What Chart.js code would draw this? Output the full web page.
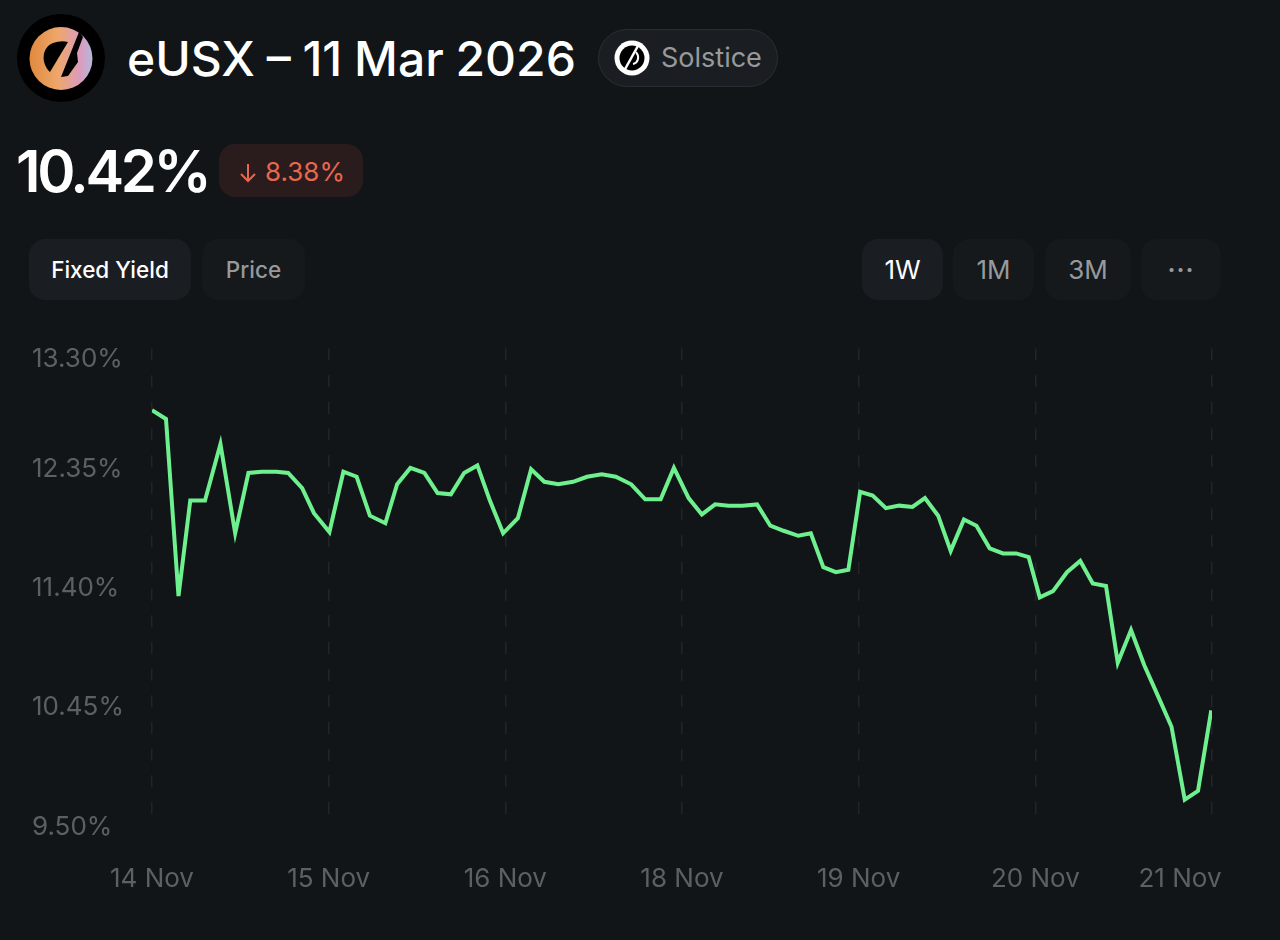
<!DOCTYPE html>
<html>
<head>
<meta charset="utf-8">
<title>eUSX</title>
<script src="https://cdn.jsdelivr.net/npm/chart.js@4"></script>
<style>
  html, body { margin: 0; padding: 0; background: #111518; }
  body { width: 1280px; height: 940px; position: relative; overflow: hidden; font-family: Inter, sans-serif; }
  .abs { position: absolute; }
  .btn { position: absolute; top: 239px; height: 61px; border-radius: 16px; display: flex; align-items: center; justify-content: center;
         font-size: 26px; color: #98999b; background: #15191c; }
  .btn.on { background: #1a1e22; color: #fff; }
  .btn.txt { font-size: 22.5px; font-weight: 500; }
  #title { left: 127px; top: 30px; font-size: 48px; line-height: 58px; font-weight: 550; word-spacing: -1px; color: #fff; white-space: nowrap; }
  #pill { left: 598px; top: 29px; width: 178px; height: 56px; border: 1px solid #2a2e32; border-radius: 29px; background: #1a1e22; }
  #pillText { left: 661px; top: 41px; font-size: 27px; line-height: 34px; color: #98999b; }
  #value { left: 16px; top: 136px; font-size: 58px; line-height: 70px; font-weight: 600; letter-spacing: -3.4px; color: #fff; }
  #badge { left: 219px; top: 144px; width: 144px; height: 53px; border-radius: 16px; background: #2a1c1c; }
  #badgeText { left: 265px; top: 157px; font-size: 26px; line-height: 30px; color: #e8674f; }
  #chart { position: absolute; left: 0; top: 330px; }
</style>
</head>
<body>

<svg class="abs" style="left:17px;top:14px" width="88" height="88" viewBox="0 0 88 88">
  <defs>
    <linearGradient id="logoGrad" x1="0" y1="0" x2="1" y2="0">
      <stop offset="0" stop-color="#e0893e"/>
      <stop offset="0.45" stop-color="#eea76a"/>
      <stop offset="0.8" stop-color="#dc9bbd"/>
      <stop offset="1" stop-color="#b3b9dc"/>
    </linearGradient>
  </defs>
  <circle cx="44" cy="44" r="44" fill="#000"/>
  <circle cx="44" cy="44.5" r="31.5" fill="url(#logoGrad)"/>
  <path d="M51 28 L33 58 C24 50 24 34 36 29 Q44 26 51 28 Z" fill="#000"/>
  <path d="M62 18 L66 23 L60 39 L61 48 L51 62 L44 63 Z" fill="#000"/>
</svg>
<div class="abs" id="title">eUSX – 11 Mar 2026</div>

<div class="abs" id="pill"></div>
<svg class="abs" style="left:614px;top:40px" width="36" height="36" viewBox="0 0 36 36">
  <circle cx="18" cy="18" r="17.5" fill="#fff"/>
  <circle cx="18" cy="18" r="12.5" fill="#000"/>
  <path d="M25 4 L10 31" stroke="#fff" stroke-width="2.5"/>
  <path d="M22 12 C26 17 24 23 19 24" stroke="#fff" stroke-width="2" fill="none"/>
</svg>
<div class="abs" id="pillText">Solstice</div>

<div class="abs" id="value">10.42%</div>
<div class="abs" id="badge"></div>
<svg class="abs" style="left:238px;top:162px" width="20" height="22" viewBox="0 0 20 22">
  <path d="M10 2 V19 M3 12 L10 19 L17 12" stroke="#e8674f" stroke-width="2" fill="none"/>
</svg>
<div class="abs" id="badgeText">8.38%</div>

<div class="btn on txt" style="left:29px;width:162px">Fixed Yield</div>
<div class="btn txt" style="left:202px;width:103px">Price</div>
<div class="btn on" style="left:862px;width:81px">1W</div>
<div class="btn" style="left:953px;width:81px">1M</div>
<div class="btn" style="left:1045px;width:86px">3M</div>
<div class="btn" style="left:1141px;width:80px;font-weight:700;font-size:24px;letter-spacing:1px">···</div>

<canvas id="chart" width="1280" height="610"></canvas>

<script>
// Etiquetas de los ejes
const dayLabels = ["14 Nov", "15 Nov", "16 Nov", "18 Nov", "19 Nov", "20 Nov", "21 Nov"];
const yTicks = [9.5, 10.45, 11.4, 12.35, 13.3];

// Horas desde el primer tick (una marca cada 24) y yield en %
const hours = [
  0, 1.9, 3.6, 5.2, 7.2, 9.3, 11.3, 13.1, 14.9, 16.9,
  18.5, 20.4, 22, 24.1, 26, 27.8, 29.6, 31.7, 33.3, 35.1,
  37, 38.8, 40.6, 42.4, 44.2, 45.9, 47.7, 49.7, 51.5, 53.3,
  55.2, 57.2, 59.1, 61.1, 63, 65.1, 67, 69.1, 70.9, 72.9,
  74.7, 76.5, 78.3, 80.2, 82.2, 84, 85.8, 87.8, 89.5, 91.2,
  92.9, 94.6, 96.2, 97.9, 99.7, 101.5, 103.3, 105, 106.8, 108.5,
  110.3, 112, 113.8, 115.6, 117.4, 119.1, 120.6, 122.4, 124.3, 126.1,
  127.8, 129.6, 131.2, 133, 134.8, 136.7, 138.5, 140.3, 142.1, 143.9
];
const yields = [
  12.81, 12.74, 11.33, 12.09, 12.09, 12.54, 11.83, 12.31, 12.32, 12.32,
  12.31, 12.19, 11.99, 11.84, 12.32, 12.28, 11.97, 11.91, 12.22, 12.35,
  12.31, 12.15, 12.14, 12.31, 12.37, 12.09, 11.83, 11.95, 12.34, 12.24,
  12.22, 12.24, 12.28, 12.30, 12.28, 12.22, 12.10, 12.10, 12.35, 12.11,
  11.98, 12.06, 12.05, 12.05, 12.06, 11.89, 11.85, 11.81, 11.83, 11.56,
  11.52, 11.54, 12.16, 12.13, 12.03, 12.05, 12.04, 12.11, 11.97, 11.69,
  11.94, 11.89, 11.71, 11.67, 11.67, 11.64, 11.32, 11.37, 11.52, 11.61,
  11.43, 11.41, 10.80, 11.06, 10.78, 10.53, 10.29, 9.71, 9.78, 10.42
];

// Las etiquetas de los extremos quedan desplazadas para no salirse
const edgeLabels = {
  id: "edgeLabels",
  beforeDraw(chart) {
    const xItems = chart.scales.x.getLabelItems();
    const lastX = xItems[xItems.length - 1];
    lastX.options.translation[0] = chart.scales.x.getPixelForValue(144) - 32;
    const yItems = chart.scales.y.getLabelItems();
    const topY = yItems[yItems.length - 1];
    topY.options.translation[1] = chart.scales.y.getPixelForValue(13.3) + 11;
  }
};

const tickFont = { family: "Inter, sans-serif", size: 26 };

new Chart(document.getElementById("chart").getContext("2d"), {
  type: "line",
  data: {
    datasets: [{
      data: hours.map((h, i) => ({ x: h, y: yields[i] })),
      borderColor: "#6ef08f",
      borderWidth: 4,
      pointRadius: 0,
      tension: 0,
      fill: false,
    }],
  },
  options: {
    responsive: false,
    animation: false,
    layout: { autoPadding: false, padding: { left: 32, right: 68, top: 17, bottom: 0 } },
    plugins: { legend: { display: false }, tooltip: { enabled: false } },
    scales: {
      x: {
        type: "linear",
        min: 0,
        max: 144,
        afterFit: scale => { scale.height = 114; scale.paddingLeft = 0; scale.paddingRight = 0; },
        border: { display: false, dash: [12, 14.67] },
        grid: { color: "#212528", lineWidth: 1.5, drawTicks: false },
        ticks: {
          stepSize: 24,
          autoSkip: false,
          maxRotation: 0,
          padding: 38,
          color: "#5c6063",
          font: tickFont,
          callback: value => dayLabels[value / 24],
        },
      },
      y: {
        min: 9.5,
        max: 13.3,
        afterFit: scale => { scale.width = 120; },
        afterBuildTicks: scale => { scale.ticks = yTicks.map(value => ({ value })); },
        border: { display: false },
        grid: { display: false, drawTicks: false },
        ticks: {
          crossAlign: "far",
          autoSkip: false,
          labelOffset: 1,
          color: "#5c6063",
          font: tickFont,
          callback: value => value.toFixed(2) + "%",
        },
      },
    },
  },
  plugins: [edgeLabels],
});
</script>
</body>
</html>
